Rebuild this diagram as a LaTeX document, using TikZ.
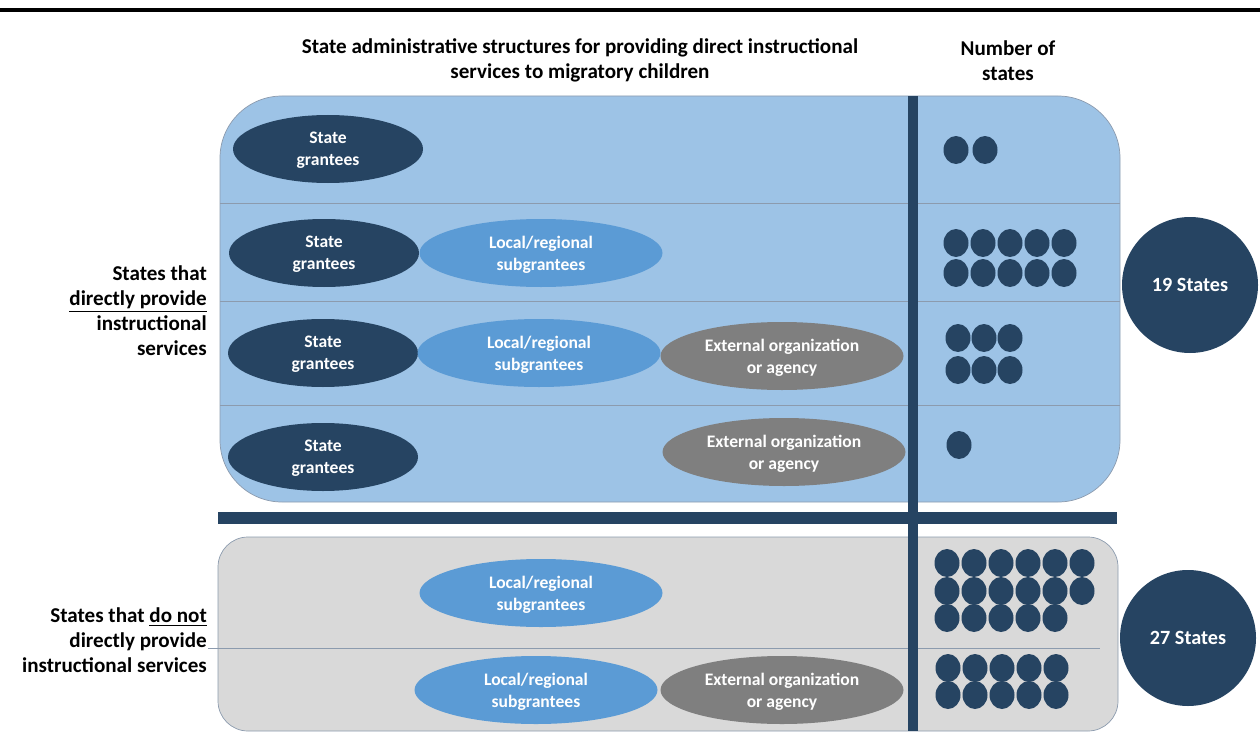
\documentclass[tikz,border=0pt]{standalone}
\usepackage{fontspec}
\setmainfont{Carlito}
\usetikzlibrary{shapes.geometric}
\definecolor{navy}{HTML}{264462}
\definecolor{paleblue}{HTML}{9DC3E6}
\definecolor{midblue}{HTML}{5B9BD5}
\definecolor{midgray}{HTML}{7F7F7F}
\definecolor{palegray}{HTML}{D9D9D9}
\definecolor{rulegray}{HTML}{8C9BAE}

\begin{document}
\begin{tikzpicture}[
statenode/.style={ellipse, fill=navy, text=white, minimum width=3.8cm, minimum height=1.36cm, inner sep=0pt, text depth=0pt, align=center, font=\fontsize{10}{12.5}\selectfont\bfseries},
localnode/.style={statenode, fill=midblue, minimum width=4.86cm},
extnode/.style={statenode, fill=midgray, minimum width=4.86cm},
dotnode/.style={ellipse, fill=navy, minimum width=0.5cm, minimum height=0.56cm, inner sep=0pt},
totalnode/.style={circle, fill=navy, text=white, minimum size=2.72cm, inner sep=0pt, font=\fontsize{11.5}{13}\selectfont\bfseries},
headnode/.style={align=center, font=\fontsize{12}{14.2}\selectfont\bfseries}
]
    \useasboundingbox (0,0) rectangle (25.2,-14.84);

    \draw [line width=2.3pt] (0,-0.2) -- (25.2,-0.2);

    \node [headnode] (title) at (11.6,-1.2) {State administrative structures for providing direct instructional\\services to migratory children};
    \node [headnode] (count) at (20.16,-1.21) {Number of\\states};

    % the two groups of states
    \draw [rulegray, fill=paleblue, rounded corners=1.24cm] (4.4,-1.92) rectangle (22.4,-10.04);
    \draw [rulegray, fill=palegray, rounded corners=0.6cm] (4.36,-10.74) rectangle (22.36,-14.62);
    \draw [rulegray] (4.4,-4.06) -- (22.4,-4.06);
    \draw [rulegray] (4.4,-6.02) -- (22.4,-6.02);
    \draw [rulegray] (4.4,-8.1) -- (22.4,-8.1);
    \draw [rulegray] (4.16,-12.96) -- (22.0,-12.96);

    \node [headnode, anchor=east, align=right] (direct) at (4.26,-6.22) {States that\\\underline{directly provide}\\instructional\\services};
    \node [headnode, anchor=east, align=right] (indirect) at (4.26,-12.8) {States that \underline{do not}\\directly provide\\instructional services};

    \node [statenode] (g1) at (6.56,-2.98) {State\\grantees};

    \node [statenode] (g2) at (6.48,-5.06) {State\\grantees};
    \node [localnode] (l2) at (10.82,-5.06) {Local/regional\\subgrantees};

    \node [statenode] (g3) at (6.46,-7.06) {State\\grantees};
    \node [localnode] (l3) at (10.78,-7.06) {Local/regional\\subgrantees};
    \node [extnode] (e3) at (15.64,-7.12) {External organization\\or agency};

    \node [statenode] (g4) at (6.46,-9.14) {State\\grantees};
    \node [extnode] (e4) at (15.68,-9.04) {External organization\\or agency};

    \node [localnode] (l5) at (10.82,-11.86) {Local/regional\\subgrantees};

    \node [localnode] (l6) at (10.72,-13.8) {Local/regional\\subgrantees};
    \node [extnode] (e6) at (15.64,-13.8) {External organization\\or agency};

    \fill [navy] (18.16,-1.92) rectangle (18.36,-14.62);
    \fill [navy] (4.36,-10.24) rectangle (22.34,-10.48);

    % one dot per state
    \foreach \i in {0,1} \node [dotnode] (a1-\i) at (19.12+0.58*\i,-3.0) {};
    \foreach \i in {0,...,4} {
        \node [dotnode] (a2-\i) at (19.12+0.54*\i,-4.86) {};
        \node [dotnode] (b2-\i) at (19.12+0.54*\i,-5.46) {};
    }
    \foreach \i in {0,1,2} {
        \node [dotnode] (a3-\i) at (19.16+0.52*\i,-6.76) {};
        \node [dotnode] (b3-\i) at (19.16+0.52*\i,-7.4) {};
    }
    \node [dotnode] (a4-0) at (19.18,-8.9) {};
    \foreach \i in {0,...,5} {
        \node [dotnode] (a5-\i) at (18.94+0.54*\i,-11.26) {};
        \node [dotnode] (b5-\i) at (18.94+0.54*\i,-11.82) {};
    }
    \foreach \i in {0,...,4} {
        \node [dotnode] (c5-\i) at (18.94+0.54*\i,-12.36) {};
        \node [dotnode] (a6-\i) at (18.96+0.54*\i,-13.36) {};
        \node [dotnode] (b6-\i) at (18.96+0.54*\i,-13.9) {};
    }

    \node [totalnode] (t1) at (23.8,-5.7) {19 States};
    \node [totalnode] (t2) at (23.76,-12.76) {27 States};

\end{tikzpicture}
\end{document}
